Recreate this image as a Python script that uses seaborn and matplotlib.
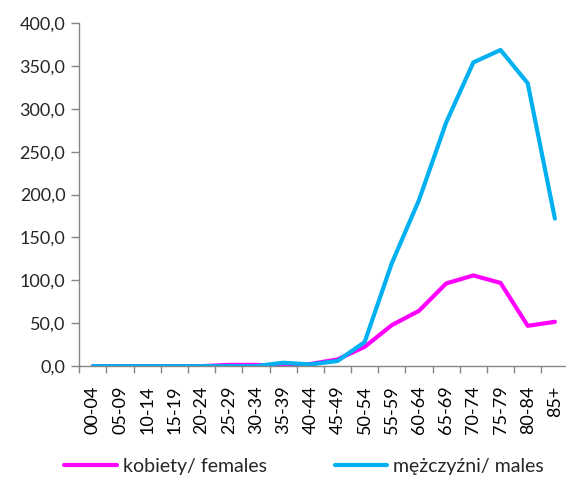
import pandas as pd
import seaborn as sns
import matplotlib.pyplot as plt
from matplotlib.ticker import FixedLocator, FuncFormatter

# age groups and rates
age_groups = ['00-04', '05-09', '10-14', '15-19', '20-24', '25-29', '30-34', '35-39', '40-44',
              '45-49', '50-54', '55-59', '60-64', '65-69', '70-74', '75-79', '80-84', '85+']
females = [0.0, 0.0, 0.0, 0.0, 0.0, 1.5, 1.5, 0.0, 2.5, 7.8, 22.5, 47.8, 64.5, 96.4, 105.7, 97.0, 47.0, 51.7]
males = [0.0, 0.0, 0.0, 0.0, 0.0, 0.0, 0.0, 4.0, 2.0, 6.0, 28.0, 120.0, 193.6, 284.0, 354.0, 368.5, 329.7, 172.0]
series_names = ['kobiety/ females', 'mężczyźni/ males']

df = pd.DataFrame({
    'age': age_groups * 2,
    'value': females + males,
    'series': [series_names[0]] * len(age_groups) + [series_names[1]] * len(age_groups),
})

sns.set_style('white')
plt.rcParams['font.family'] = ['Lato', 'DejaVu Sans']

fig = plt.figure(figsize=(5.66, 4.78), dpi=100)
ax = fig.add_axes([0.14, 0.234, 0.862, 0.718])

sns.lineplot(data=df, x='age', y='value', hue='series', sort=False,
             palette=['#FF00FF', '#00B0F0'], linewidth=3, ax=ax, legend=False)

ax.set_xlim(-0.5, 17.45)
ax.set_ylim(0, 400)
ax.set_yticks(range(0, 401, 50))
ax.yaxis.set_major_formatter(FuncFormatter(lambda v, p: f'{v:.1f}'.replace('.', ',')))
ax.set_xticks(range(len(age_groups)))
ax.set_xticklabels(age_groups, rotation=90)
ax.xaxis.set_minor_locator(FixedLocator([i - 0.5 for i in range(len(age_groups) + 1)]))
ax.tick_params(axis='x', which='major', length=0, pad=14, labelsize=13, colors='black')
ax.tick_params(axis='x', which='minor', length=5, width=1, color='#868686', direction='out', bottom=True)
ax.tick_params(axis='y', length=6, width=1, color='#868686', direction='out', left=True, labelsize=13, pad=4)
ax.set_xlabel('')
ax.set_ylabel('')

for s in ['top', 'right']:
    ax.spines[s].set_visible(False)
for s in ['left', 'bottom']:
    ax.spines[s].set_color('#868686')
    ax.spines[s].set_linewidth(1)

handles = [plt.Line2D([], [], color='#FF00FF', lw=3), plt.Line2D([], [], color='#00B0F0', lw=3)]
fig.legend(handles, series_names, loc='lower center', bbox_to_anchor=(0.537, -0.03), ncol=2,
           frameon=False, fontsize=14, handlelength=2.7, handletextpad=0.3, columnspacing=3.5)

fig.savefig('out.png', dpi=100)
